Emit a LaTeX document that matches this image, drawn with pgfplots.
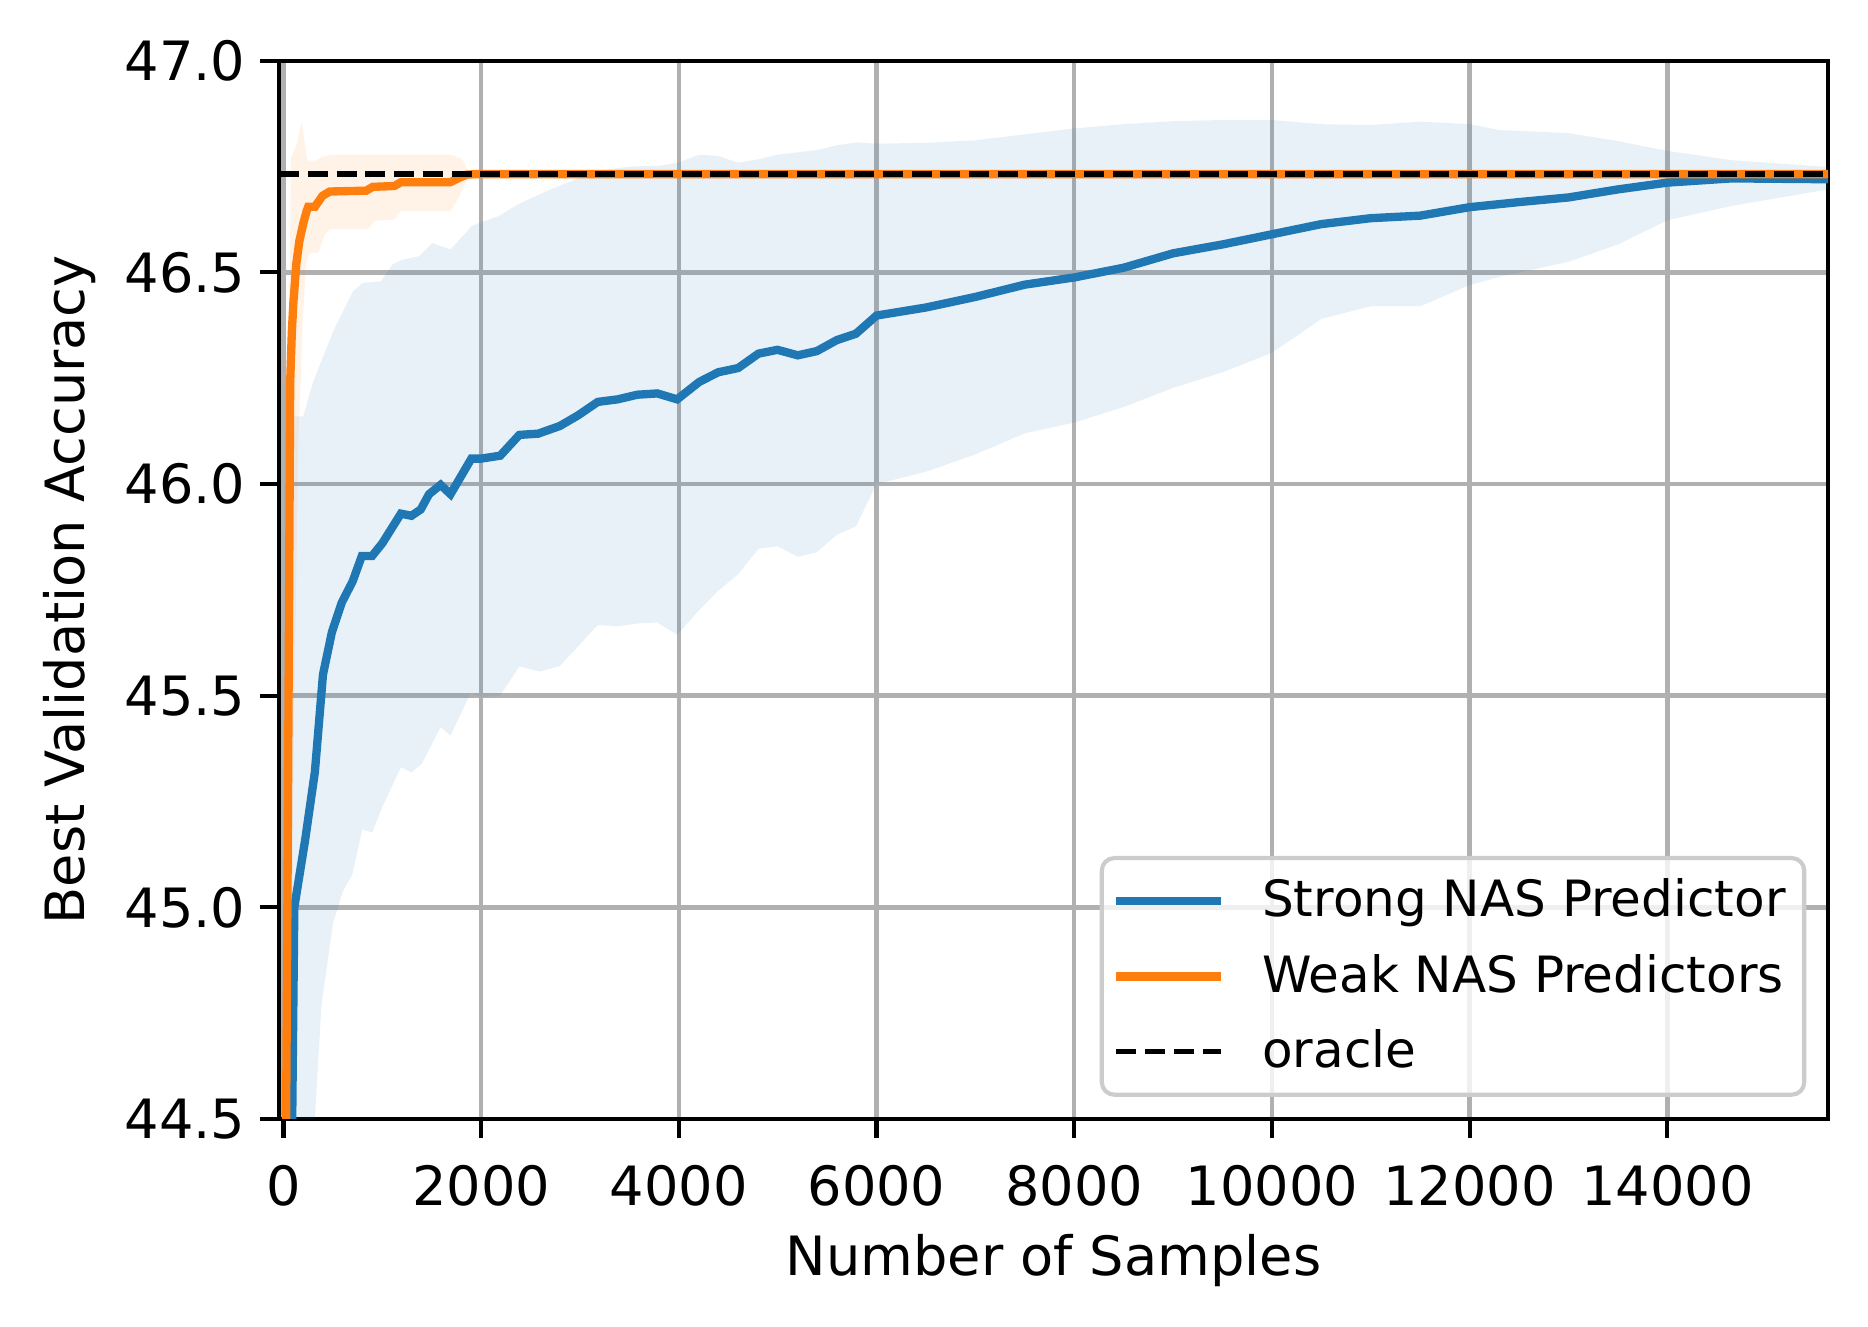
\documentclass[border=0pt]{standalone}
\usepackage{fontspec}
\setmainfont{DejaVu Sans}
\usepackage{pgfplots}
\pgfplotsset{compat=1.18}
\usepgfplotslibrary{fillbetween}
\definecolor{cblue}{HTML}{1F77B4}
\definecolor{corange}{HTML}{FF7F0E}
\definecolor{cgrid}{HTML}{B0B0B0}
\definecolor{cleg}{HTML}{CCCCCC}

% Strong NAS predictor: mean
\pgfplotstableread{
x y
50 43.6
110 45.0
220 45.16
318 45.32
400 45.55
490 45.65
590 45.72
700 45.77
793 45.83
897 45.83
1000 45.86
1188 45.93
1295 45.925
1389 45.94
1473 45.976
1590 45.998
1690 45.976
1901 46.06
2000 46.06
2193 46.067
2386 46.116
2577 46.119
2795 46.137
2979 46.162
3180 46.194
3380 46.20
3581 46.211
3782 46.214
3983 46.200
4205 46.241
4398 46.264
4600 46.274
4805 46.308
4998 46.317
5203 46.304
5396 46.314
5598 46.34
5791 46.355
6000 46.398
6500 46.417
7000 46.442
7500 46.471
8000 46.488
8500 46.511
9000 46.545
9500 46.566
10000 46.59
10500 46.614
11000 46.628
11500 46.634
12000 46.654
12500 46.666
13000 46.677
13500 46.696
14000 46.712
14650 46.722
15625 46.72
}\strongmean

\pgfplotstableread{
x y
50 44.3
110 46.16
200 46.16
301 46.242
502 46.36
703 46.455
803 46.475
988 46.479
1104 46.519
1205 46.53
1372 46.538
1506 46.569
1690 46.554
1908 46.61
2176 46.633
2376 46.661
2711 46.697
3180 46.74
3514 46.75
3815 46.752
4000 46.76
4205 46.778
4398 46.775
4600 46.759
4805 46.767
4998 46.778
5400 46.789
5598 46.80
5791 46.807
6000 46.804
6500 46.806
7000 46.812
7500 46.826
8000 46.84
8500 46.85
9000 46.857
9500 46.86
10000 46.86
10500 46.85
11000 46.848
11500 46.856
12000 46.85
12310 46.836
13000 46.829
13500 46.81
14000 46.787
14650 46.765
15625 46.749
}\strongup

\pgfplotstableread{
x y
50 42.5
100 43.0
200 43.8
318 44.5
385 44.77
502 44.963
602 45.038
697 45.078
797 45.184
898 45.177
998 45.236
1188 45.331
1295 45.319
1399 45.339
1590 45.426
1690 45.406
1891 45.505
2002 45.497
2193 45.501
2386 45.569
2594 45.557
2795 45.57
2979 45.616
3180 45.667
3387 45.664
3598 45.671
3782 45.673
3983 45.644
4205 45.702
4398 45.748
4600 45.787
4805 45.847
4998 45.853
5203 45.828
5396 45.839
5598 45.88
5791 45.90
6000 46.00
6500 46.029
7000 46.07
7500 46.12
8000 46.145
8500 46.182
9000 46.227
9500 46.264
10000 46.31
10500 46.39
11000 46.42
11500 46.42
12000 46.47
12310 46.49
13000 46.525
13500 46.566
14000 46.623
14650 46.657
15625 46.696
}\stronglow

% Weak NAS predictors: mean
\pgfplotstableread{
x y
15 44.0
27 44.5
40 45.0
58 45.77
68 46.24
85 46.36
101 46.43
130 46.52
161 46.574
200 46.615
235 46.645
251 46.655
318 46.655
396 46.681
469 46.691
837 46.693
904 46.702
1121 46.704
1189 46.713
1690 46.713
1774 46.723
1858 46.731
1950 46.732
15625 46.732
}\weakmean

\pgfplotstableread{
x y
20 44.8
45 46.0
75 46.77
130 46.80
185 46.855
240 46.764
330 46.764
385 46.772
486 46.778
1690 46.778
1807 46.768
1858 46.744
1950 46.732
}\weakup

\pgfplotstableread{
x y
20 42.0
60 43.5
100 45.3
150 46.1
201 46.416
235 46.527
268 46.546
352 46.546
418 46.59
469 46.602
854 46.602
921 46.622
1121 46.625
1189 46.645
1690 46.645
1774 46.677
1858 46.72
1950 46.732
}\weaklow

\begin{document}
\begin{tikzpicture}
\begin{axis}[
  at={(0,0)}, anchor=south west,
  scale only axis,
  width=371.76bp, height=253.99bp,
  xmin=-45, xmax=15625,
  ymin=44.5, ymax=47.0,
  xtick={0,2000,4000,6000,8000,10000,12000,14000},
  ytick={44.5,45,45.5,46,46.5,47},
  scaled x ticks=false,
  /pgf/number format/assume math mode=true,
  x tick label style={/pgf/number format/fixed, /pgf/number format/1000 sep={}, yshift=-2.9bp},
  y tick label style={/pgf/number format/fixed, /pgf/number format/fixed zerofill, /pgf/number format/precision=1},
  tick label style={font=\fontsize{13bp}{15.6bp}\selectfont},
  label style={font=\fontsize{13bp}{15.6bp}\selectfont},
  xlabel={Number of Samples},
  ylabel={Best Validation Accuracy},
  tick align=outside, tick pos=left,
  major tick length=4.6bp,
  tick style={black, line width=1bp},
  axis line style={black, line width=1bp},
  grid=major,
  major grid style={cgrid, line width=1.05bp},
  legend cell align=left,
  legend style={at={(0.986,0.021)}, anchor=south east,
    draw=cleg, line width=1bp, rounded corners=3bp,
    fill=white, fill opacity=0.8, text opacity=1,
    font=\fontsize{12bp}{14.4bp}\selectfont,
    inner xsep=2.5bp, inner ysep=3bp, row sep=3.5bp},
  legend image code/.code={\draw[#1] (0bp,0bp) -- (25bp,0bp); \path (32bp,0bp);},
]
\addplot[name path=su, draw=none, forget plot] table {\strongup};
\addplot[name path=sl, draw=none, forget plot] table {\stronglow};
\addplot[cblue, fill opacity=0.1, draw=none, forget plot] fill between[of=su and sl];
\addplot[name path=wu, draw=none, forget plot] table {\weakup};
\addplot[name path=wl, draw=none, forget plot] table {\weaklow};
\addplot[corange, fill opacity=0.1, draw=none, forget plot] fill between[of=wu and wl];
\addplot[cblue, line width=2bp] table {\strongmean};
\addlegendentry{Strong NAS Predictor}
\addplot[corange, line width=2bp] table {\weakmean};
\addlegendentry{Weak NAS Predictors}
\addplot[black, line width=1.3bp, dash pattern=on 4.8bp off 2.1bp] coordinates {(-45,46.732) (15625,46.732)};
\addlegendentry{oracle}
\end{axis}
\pgfresetboundingbox
\path[use as bounding box] (-66.96bp,-49.92bp) rectangle (381.36bp,268.56bp);
\end{tikzpicture}
\end{document}
